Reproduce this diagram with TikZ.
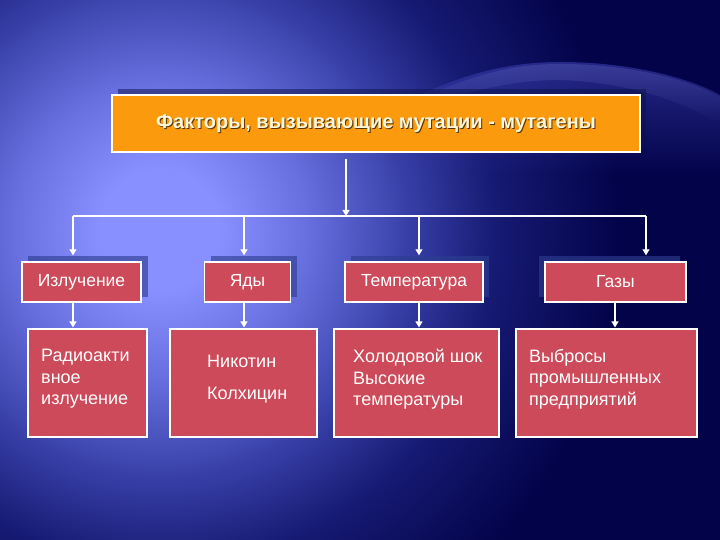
\documentclass[tikz,border=0pt]{standalone}
\usepackage{fontspec}
\setmainfont{Liberation Sans}
\usetikzlibrary{arrows.meta,fadings,shadows}
\definecolor{navy}{HTML}{03034A}
\definecolor{gA}{HTML}{8890FF}
\definecolor{gB}{HTML}{6870E0}
\definecolor{gC}{HTML}{3840A8}
\definecolor{gD}{HTML}{161A72}
\definecolor{swoosh}{HTML}{3C40B0}
\definecolor{boxred}{HTML}{CC4A5A}
\definecolor{boxorange}{HTML}{FB9A0C}
\definecolor{titletext}{HTML}{FFF6DC}
\definecolor{shadowblue}{HTML}{0C1248}
\definecolor{catshadow}{HTML}{2D3D90}
\pgfdeclareradialshading{glow}{\pgfpoint{0bp}{0bp}}{color(0bp)=(gA); color(2.7bp)=(gA); color(6.5bp)=(gB); color(11bp)=(gC); color(15bp)=(gD); color(20.5bp)=(navy); color(50bp)=(navy)}
\tikzset{
  topbox/.style={draw=white, line width=1.2pt, fill=boxorange, minimum width=528pt, minimum height=57pt, inner sep=0pt},
  catbox/.style={draw=white, line width=1.1pt, fill=boxred, minimum height=40pt, inner sep=0pt, text=white, font=\fontsize{17.5}{20}\selectfont},
  shadowbox/.style={fill=catshadow, fill opacity=0.63, minimum height=41pt, inner sep=0pt},
  itembox/.style={draw=white, line width=1.1pt, fill=boxred, minimum height=108pt, inner sep=0pt},
  itemtext/.style={anchor=north west, inner sep=0pt, text=white, align=left, font=\fontsize{18}{21.5}\selectfont},
  titlefont/.style={font=\bfseries\fontsize{20}{22}\selectfont, inner sep=0pt},
  conn/.style={draw=white, line width=1.1pt},
  arr/.style={conn, -{Triangle[width=7pt,length=6pt]}}
}
\begin{document}
\begin{tikzpicture}[x=1pt,y=-1pt]
\useasboundingbox (0,0) rectangle (720,540);
% background
\fill[navy] (0,0) rectangle (720,540);
\begin{scope}
\clip (0,0) rectangle (720,540);
\shade[shading=glow] (160-560,230-560) rectangle (160+560,230+560);
\fill[swoosh, fill opacity=0.6, path fading=south] (400,105) .. controls (455,76) and (505,62) .. (560,62) .. controls (630,62) and (690,78) .. (720,95) -- (720,175) -- (400,175) -- cycle;
\fill[swoosh!70!white, fill opacity=0.25, path fading=south] (440,90) .. controls (485,72) and (518,64) .. (560,64) .. controls (630,64) and (690,80) .. (720,97) -- (720,125) .. controls (680,98) and (620,82) .. (560,80) .. controls (518,80) and (485,88) .. (440,100) -- cycle;
\end{scope}
% top box
\node[fill=shadowblue, fill opacity=0.5, minimum width=528pt, minimum height=57pt, inner sep=0pt] (topsh) at (382,117.5) {};
\node[topbox] (top) at (376,123.5) {};
\node[titlefont, text=black!65!boxorange] (titlesh) at (377,125) {Факторы, вызывающие мутации - мутагены};
\node[titlefont, text=titletext] (title) at (376,124) {Факторы, вызывающие мутации - мутагены};
% category shadows
\node[shadowbox, minimum width=120pt] (s1) at (88,276) {};
\node[shadowbox, minimum width=86pt] (s2) at (253.5,276) {};
\node[shadowbox, minimum width=138pt] (s3) at (420,276) {};
\node[shadowbox, minimum width=141pt] (s4) at (609.5,276) {};
% categories
\node[catbox, minimum width=119pt] (r1) at (81.5,282) {Излучение};
\node[catbox, minimum width=86pt] (r2) at (247.5,282) {Яды};
\node[catbox, minimum width=138pt] (r3) at (414,282) {Температура};
\node[catbox, minimum width=141pt] (r4) at (615.5,282) {Газы};
% items
\node[itembox, minimum width=119pt] (b1) at (87.5,383) {};
\node[itembox, minimum width=147pt] (b2) at (243.5,383) {};
\node[itembox, minimum width=165pt] (b3) at (416.5,383) {};
\node[itembox, minimum width=181pt] (b4) at (606.5,383) {};
\node[itemtext] (t1) at (41,349) {Радиоакти\\вное\\излучение};
\node[itemtext] (t2) at (207,355) {Никотин\\[10.5pt]Колхицин};
\node[itemtext] (t3) at (353,349) {Холодовой шок\\Высокие\\температуры};
\node[itemtext] (t4) at (529,349) {Выбросы\\промышленных\\предприятий};
% connectors
\coordinate (ts) at (346,159);
\coordinate (tj) at (346,216);
\coordinate (h1) at (73,216);
\coordinate (h2) at (244,216);
\coordinate (h3) at (419,216);
\coordinate (h4) at (646,216);
\coordinate (x4) at (615,0);
\draw[arr] (ts) -- (tj);
\draw[conn] (h1) -- (h4);
\draw[arr] (h1) -- (h1 |- s1.north);
\draw[arr] (h2) -- (h2 |- s2.north);
\draw[arr] (h3) -- (h3 |- s3.north);
\draw[arr] (h4) -- (h4 |- s4.north);
\draw[arr] (h1 |- r1.south) -- ([yshift=1pt]h1 |- b1.north);
\draw[arr] (h2 |- r2.south) -- ([yshift=1pt]h2 |- b2.north);
\draw[arr] (h3 |- r3.south) -- ([yshift=1pt]h3 |- b3.north);
\draw[arr] (x4 |- r4.south) -- ([yshift=1pt]x4 |- b4.north);
\end{tikzpicture}
\end{document}
